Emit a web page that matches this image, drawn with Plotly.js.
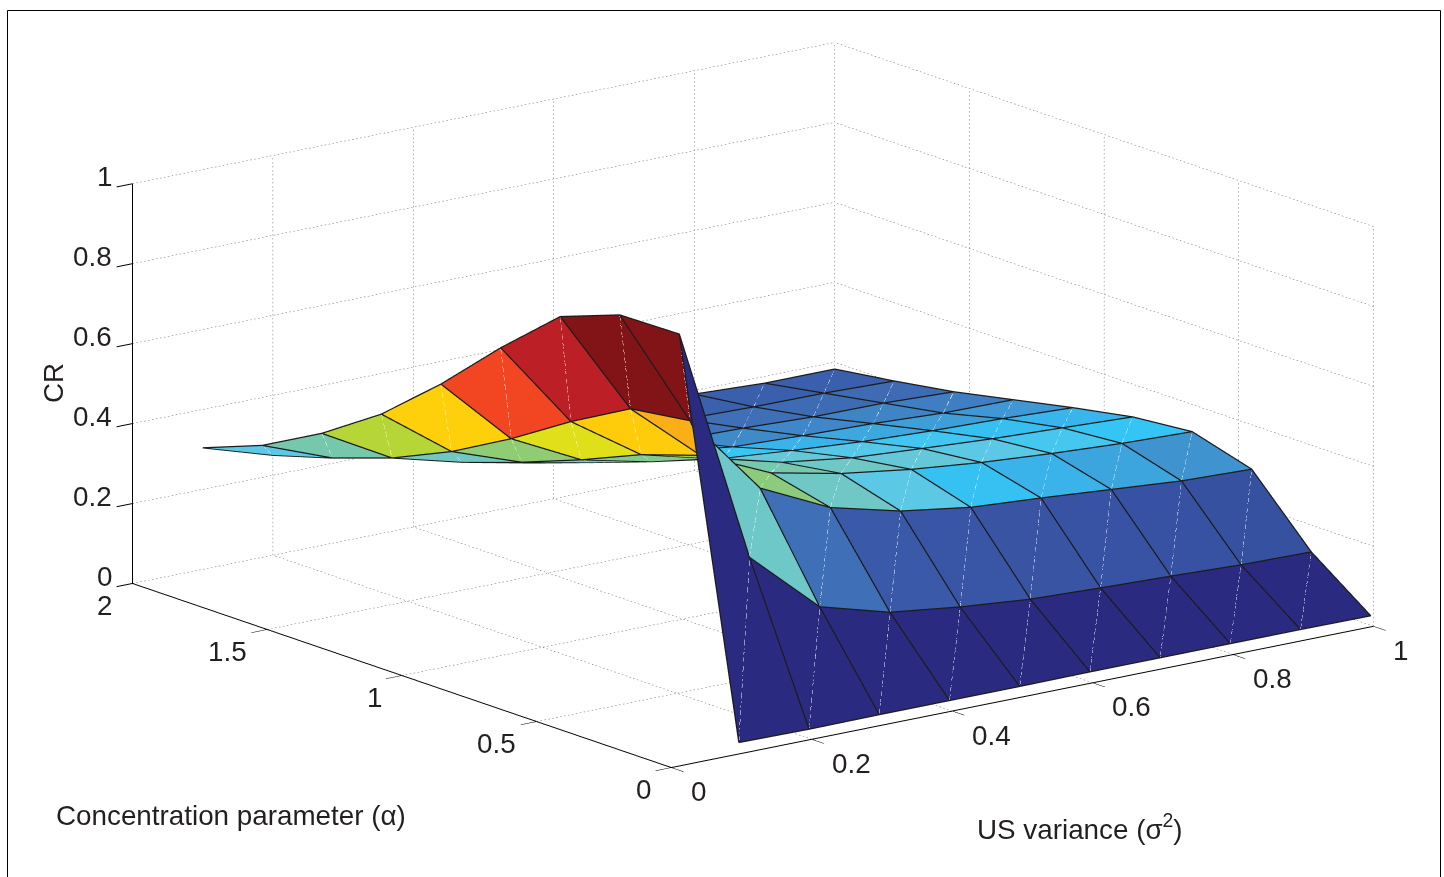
<!DOCTYPE html>
<html><head><meta charset="utf-8">
<script src="https://cdn.plot.ly/plotly-3.0.1.min.js"></script>
<style>html,body{margin:0;padding:0;background:#fff}#c{width:1444px;height:877px}</style></head>
<body><div id="c"></div>
<script>
const sigma=[0.1,0.2,0.3,0.4,0.5,0.6,0.7,0.8,0.9,1.0];
const alpha=[0.01,0.231,0.452,0.673,0.894,1.116,1.337,1.558,1.779,2];
const crA0=[0.025,0.023,0.024,0.024,0.024,0.025,0.025,0.025,0.025,0.024];
const crA1=[0.996,0.402,0.243,0.194,0.172,0.156,0.149,0.143,0.136,0.133];
const crA2=[0.993,0.693,0.489,0.405,0.361,0.335,0.323,0.309,0.295,0.289];
const crA3=[0.938,0.672,0.52,0.441,0.404,0.379,0.361,0.348,0.338,0.332];
const crA4=[0.809,0.589,0.471,0.426,0.381,0.357,0.345,0.334,0.326,0.318];
const crA5=[0.667,0.495,0.407,0.367,0.339,0.324,0.311,0.303,0.298,0.29];
const crA6=[0.541,0.412,0.35,0.314,0.305,0.282,0.275,0.27,0.261,0.259];
const crA7=[0.442,0.345,0.299,0.262,0.266,0.247,0.243,0.236,0.235,0.228];
const crA8=[0.361,0.294,0.26,0.221,0.232,0.218,0.214,0.21,0.209,0.204];
const crA9=[0.304,0.25,0.216,0.202,0.198,0.194,0.19,0.191,0.183,0.183];
const cr=[crA0,crA1,crA2,crA3,crA4,crA5,crA6,crA7,crA8,crA9];
const sigmaTicks=[0,0.2,0.4,0.6,0.8,1];
const alphaTicks=[0,0.5,1,1.5,2];
const crTicks=[0,0.2,0.4,0.6,0.8,1];
const colorStops=[[0,'#2a2a80'],[0.08,'#2a2a80'],[0.12,'#36509f'],[0.19,'#3a58a8'],[0.21,'#3a60ad'],[0.243,'#3f70b6'],[0.26,'#3f7dc1'],[0.295,'#3f94d0'],[0.309,'#3da7e0'],[0.325,'#38b5ec'],[0.337,'#35c5f5'],[0.361,'#5cc8e6'],[0.405,'#6fc8c5'],[0.44,'#75c8b0'],[0.49,'#8ccb7a'],[0.54,'#b5d636'],[0.59,'#dfe01a'],[0.67,'#ffcf0a'],[0.693,'#fbaf17'],[0.809,'#f34722'],[0.938,'#bf2026'],[0.99,'#821417'],[1,'#821417']];

const R=3, T=37.5*Math.PI/180, P=15.2*Math.PI/180, S=2.18, ZR=0.468, CZ=-0.0025;
const eye={x:-Math.sin(T)*Math.cos(P),y:-Math.cos(T)*Math.cos(P),z:Math.sin(P)};
// lift a line very slightly toward the camera so the faces do not swallow it
const E=0.012;
const lift=(s,a,c)=>[s+eye.x*E/S,Math.max(0,a+2*eye.y*E/S),c+eye.z*E/(ZR*S)];
// approximate on-screen length, used only to space dots and dashes evenly
const pxLen=(a,b)=>Math.hypot((b[0]-a[0])*701-(b[1]-a[1])*270,(b[0]-a[0])*141+(b[1]-a[1])*92+(b[2]-a[2])*400);
const broken=(out,a,b,period,on)=>{
  const L=pxLen(a,b),N=Math.max(1,Math.round(L/period));
  for(let q=0;q<N;q++){
    const t0=q/N,t1=(q+on/period)/N;
    for(let d=0;d<3;d++){out[d].push(a[d]+(b[d]-a[d])*t0,a[d]+(b[d]-a[d])*t1,null);}
  }
};

const n=alpha.length,m=sigma.length,id=(i,j)=>i*m+j;
const vx=[],vy=[],vz=[],fi=[],fj=[],fk=[],fc=[];
alpha.forEach((a,i)=>sigma.forEach((s,j)=>{vx.push(s);vy.push(a);vz.push(cr[i][j]);}));
for(let i=0;i<n-1;i++)for(let j=0;j<m-1;j++){
  fi.push(id(i,j),id(i,j));fj.push(id(i,j+1),id(i+1,j+1));fk.push(id(i+1,j+1),id(i+1,j));
  fc.push(cr[i][j],cr[i][j]);
}
const surface={type:'mesh3d',x:vx,y:vy,z:vz,i:fi,j:fj,k:fk,intensity:fc,intensitymode:'cell',
  colorscale:colorStops,cmin:0,cmax:1,showscale:false,flatshading:true,hoverinfo:'skip',
  lighting:{ambient:1,diffuse:0,specular:0,roughness:1,fresnel:0}};

const ed=[[],[],[]];
const push=(o,p)=>{o[0].push(p[0]);o[1].push(p[1]);o[2].push(p[2]);};
alpha.forEach((a,i)=>{sigma.forEach((s,j)=>push(ed,lift(s,a,cr[i][j])));push(ed,[null,null,null]);});
sigma.forEach((s,j)=>{alpha.forEach((a,i)=>push(ed,lift(s,a,cr[i][j])));push(ed,[null,null,null]);});
const edges={type:'scatter3d',mode:'lines',x:ed[0],y:ed[1],z:ed[2],line:{color:'#1c1c1c',width:2.5},hoverinfo:'skip',showlegend:false};

const sm=[[],[],[]];
for(let i=0;i<n-1;i++)for(let j=0;j<m-1;j++){
  broken(sm,lift(sigma[j],alpha[i],cr[i][j]),lift(sigma[j+1],alpha[i+1],cr[i+1][j+1]),9,6);
}
const seams={type:'scatter3d',mode:'lines',x:sm[0],y:sm[1],z:sm[2],line:{color:'rgba(255,255,255,0.2)',width:1},hoverinfo:'skip',showlegend:false};

const gr=[[],[],[]];
const seg=(a,b)=>broken(gr,a,b,4,1.5);
sigmaTicks.forEach(s=>{seg([s,0,0],[s,2,0]);seg([s,2,0],[s,2,1]);});
alphaTicks.forEach(a=>{seg([0,a,0],[1,a,0]);seg([1,a,0],[1,a,1]);});
crTicks.forEach(c=>{if(c>0){seg([0,2,c],[1,2,c]);seg([1,0,c],[1,2,c]);}});
const grid={type:'scatter3d',mode:'lines',x:gr[0],y:gr[1],z:gr[2],line:{color:'#666',width:1},hoverinfo:'skip',showlegend:false};

const axisFont={family:'Liberation Sans, Arial, sans-serif',size:27.8,color:'#231f20'};
const ax=(range,tv)=>({range:range,autorange:false,tickvals:tv,ticktext:tv.map(String),showgrid:false,zeroline:false,
  showline:true,linecolor:'#000',linewidth:2,ticks:'outside',ticklen:20,tickwidth:2,tickcolor:'#000',
  showticklabels:false,showbackground:false,showspikes:false,title:{text:''}});
const lab=(x,y,z,t,anchor,xs,ys)=>({x:x,y:y,z:z,text:t,showarrow:false,xanchor:anchor,yanchor:'middle',xshift:xs,yshift:ys,font:axisFont});
const sceneLabels=[
  ...sigmaTicks.map(s=>lab(s,0,0,String(s),'left',18,-24)),
  ...alphaTicks.map(a=>lab(0,a,0,String(a),'right',-18,-21.5)),
  ...crTicks.map(c=>lab(0,2,c,String(c),'right',-18,7.5))];
const layout={width:1444,height:877,margin:{l:0,r:0,t:0,b:0},paper_bgcolor:'#fff',showlegend:false,
 scene:{domain:{x:[0.0433,0.9993],y:[0.074,1]},aspectmode:'manual',aspectratio:{x:S,y:S,z:ZR*S},
  camera:{projection:{type:'orthographic'},center:{x:0,y:0,z:CZ},up:{x:0,y:0,z:1},
    eye:{x:R*eye.x,y:R*eye.y,z:R*eye.z+CZ}},
  xaxis:ax([0,1],sigmaTicks),yaxis:ax([0,2],alphaTicks),zaxis:ax([0,1],crTicks),annotations:sceneLabels},
 shapes:[{type:'rect',xref:'paper',yref:'paper',x0:7.5/1444,x1:1440.5/1444,y0:-0.05,y1:1-10.5/877,line:{color:'#000',width:1}}],
 annotations:[
  {xref:'paper',yref:'paper',x:231/1444,y:1-815.5/877,xanchor:'center',yanchor:'middle',text:'Concentration parameter (α)',showarrow:false,font:axisFont},
  {xref:'paper',yref:'paper',x:1080/1444,y:1-827/877,xanchor:'center',yanchor:'middle',text:'US variance (σ<sup>2</sup>)',showarrow:false,font:axisFont},
  {xref:'paper',yref:'paper',x:53/1444,y:1-383/877,xanchor:'center',yanchor:'middle',text:'CR',textangle:-90,showarrow:false,font:axisFont}
 ]};
Plotly.newPlot('c',[grid,surface,edges,seams],layout,{displayModeBar:false});
</script></body></html>
